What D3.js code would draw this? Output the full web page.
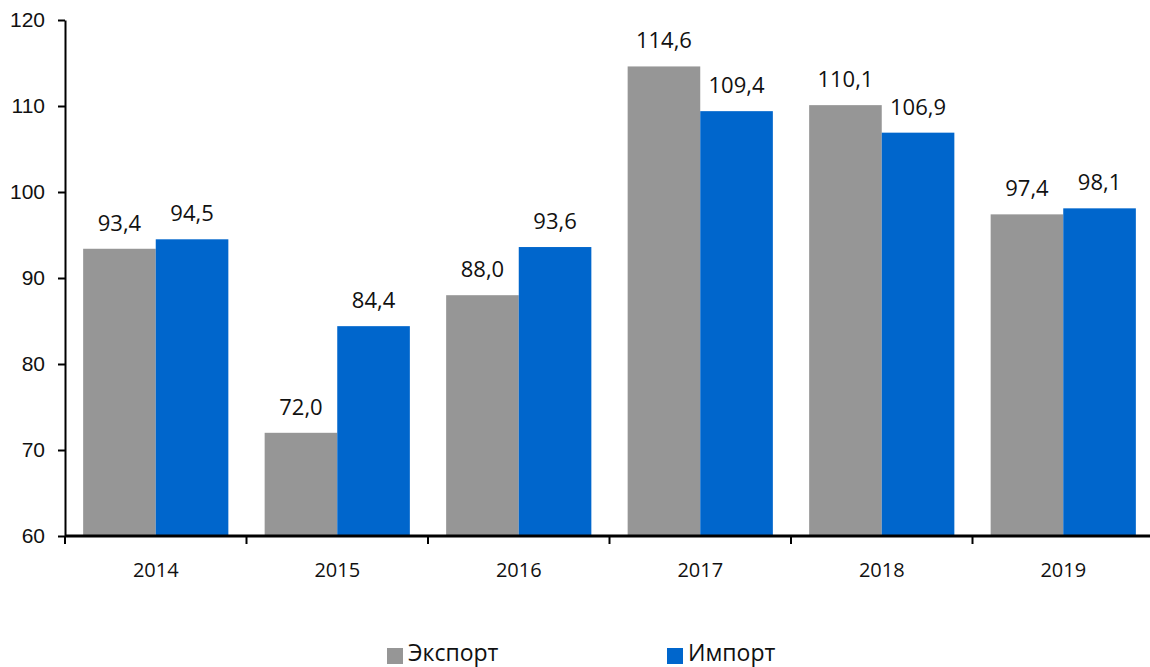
<!DOCTYPE html>
<html><head><meta charset="utf-8">
<script src="https://cdn.jsdelivr.net/npm/d3@7"></script>
<style>body{margin:0;background:#fff}</style>
</head><body>
<svg id="c" width="1150" height="667"></svg>
<script>
const categories = ["2014","2015","2016","2017","2018","2019"];
const seriesNames = ["Экспорт","Импорт"];
const exportValues = [93.4, 72.0, 88.0, 114.6, 110.1, 97.4];
const importValues = [94.5, 84.4, 93.6, 109.4, 106.9, 98.1];
const yTicks = [60,70,80,90,100,110,120];
const colors = ["#969696","#0066CC"];

const svg = d3.select("#c");
const x = d3.scaleBand().domain(categories).range([65,1154]).paddingInner(0.2).paddingOuter(0.1);
const xs = d3.scaleBand().domain(seriesNames).range([0, x.bandwidth()]);
const y = d3.scaleLinear().domain([60,120]).range([536,20]);

const data = categories.map((c,i)=>({c, vals:[exportValues[i], importValues[i]]}));

const g = svg.append("g");
data.forEach(d=>{
  d.vals.forEach((v,j)=>{
    g.append("rect").attr("x", x(d.c)+xs(seriesNames[j])).attr("y", y(v))
      .attr("width", xs.bandwidth()).attr("height", y(60)-y(v)).attr("fill", colors[j]);
    g.append("text").attr("x", x(d.c)+xs(seriesNames[j])+xs.bandwidth()/2).attr("y", y(v)-18)
      .attr("text-anchor","middle").attr("font-family","Open Sans").attr("font-size",22)
      .attr("fill","#111").text(v.toFixed(1).replace(".",","));
  });
});

// y axis
const ya = svg.append("g").attr("transform","translate(65,0)")
  .call(d3.axisLeft(y).tickValues(yTicks).tickSize(7).tickPadding(13).tickSizeOuter(0));
ya.select(".domain").attr("stroke","#000").attr("stroke-width",2);
ya.selectAll(".tick line").attr("stroke-width",2);
ya.selectAll("text").attr("font-family","Liberation Sans").attr("font-size",21).attr("fill","#111");

// x axis
const xa = svg.append("g").attr("transform","translate(0,536)");
xa.append("line").attr("x1",65).attr("x2",1150).attr("y1",0).attr("y2",0).attr("stroke","#000").attr("stroke-width",3);
const step = x.step();
categories.forEach((c,i)=>{
  const bx = x(c) - x.paddingOuter()*step;
  xa.append("line").attr("x1",bx).attr("x2",bx).attr("y1",0).attr("y2",8).attr("stroke","#000").attr("stroke-width",2);
  xa.append("text").attr("x", x(c)+x.bandwidth()/2).attr("y",41).attr("text-anchor","middle")
    .attr("font-family","Open Sans").attr("font-size",20).attr("fill","#111").text(c);
});

// legend
const legendX = [387, 667];
seriesNames.forEach((s,j)=>{
  svg.append("rect").attr("x",legendX[j]).attr("y",648).attr("width",16).attr("height",16).attr("fill",colors[j]);
  svg.append("text").attr("x",legendX[j]+21).attr("y",661).attr("font-family","Open Sans").attr("font-size",23)
    .attr("fill","#111").text(s);
});
</script>
</body></html>
